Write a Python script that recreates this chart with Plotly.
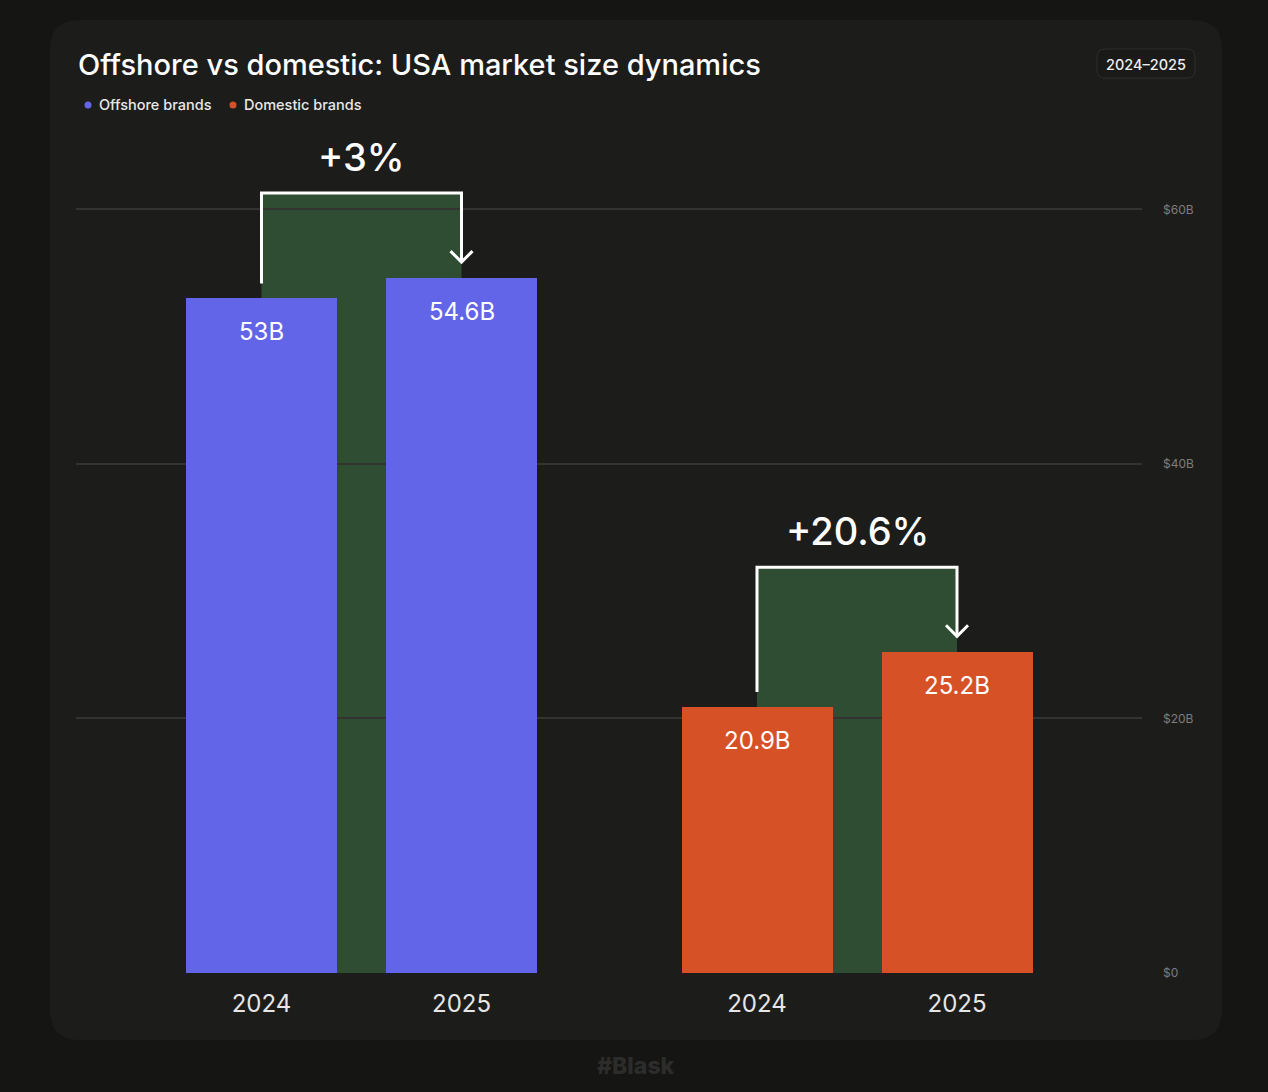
import plotly.graph_objects as go

# ---------------- data ----------------
years = ["2024", "2025"]
segments = ["Offshore brands", "Domestic brands"]
offshore_values = [53.0, 54.6]   # $B
domestic_values = [20.9, 25.2]   # $B
y_tick_values = [0, 20, 40, 60]
y_tick_labels = ["$0", "$20B", "$40B", "$60B"]
title_text = "Offshore vs domestic: USA market size dynamics"
period_text = "2024–2025"

# ---------------- style / layout ----------------
W, H = 1268, 1092
BG_OUT = "#151514"
BG_CARD = "#1c1c1b"
GREEN = "#2f4d32"
GRID = "#333332"
COLORS = ["#6265e8", "#d65226"]
FONT = "Inter"

PX_L, PX_R = 76, 1142          # plot area in pixels
PX_B, PX_T = 973, 133
Y_MAX = 66.0
px_per_unit_y = (PX_B - PX_T) / Y_MAX
X_UNIT_PX = 200.0
X_MIN = -(261.5 - PX_L) / X_UNIT_PX
X_MAX = X_MIN + (PX_R - PX_L) / X_UNIT_PX
GROUP_GAP = 2.4775
BAR_W = 0.755


def py(v_px):  # pixel y -> paper
    return 1 - v_px / H


def pxx(v_px):  # pixel x -> paper
    return v_px / W


def dy(px):  # pixels -> y data units
    return px / px_per_unit_y


def dx(px):
    return px / X_UNIT_PX


def rounded_path(x0, y0, x1, y1, r):
    rx, ry = r / W, r / H
    X0, X1 = pxx(x0), pxx(x1)
    Y0, Y1 = py(y0), py(y1)
    return (f"M {X0+rx},{Y0} L {X1-rx},{Y0} Q {X1},{Y0} {X1},{Y0-ry} "
            f"L {X1},{Y1+ry} Q {X1},{Y1} {X1-rx},{Y1} L {X0+rx},{Y1} "
            f"Q {X0},{Y1} {X0},{Y1+ry} L {X0},{Y0-ry} Q {X0},{Y0} {X0+rx},{Y0} Z")


groups = [offshore_values, domestic_values]
fig = go.Figure()
tickvals, ticktext = [], []
shapes, annotations = [], []

shapes.append(dict(type="path", xref="paper", yref="paper", layer="below",
                   path=rounded_path(50, 20, 1222, 1040, 30),
                   fillcolor=BG_CARD, line=dict(width=0)))
shapes.append(dict(type="path", xref="paper", yref="paper", layer="below",
                   path=rounded_path(1097, 49, 1195, 78, 8),
                   fillcolor="#1a1a19", line=dict(color="#2e2e2d", width=1)))

for gi, (seg, vals) in enumerate(zip(segments, groups)):
    xs = [gi * GROUP_GAP + i for i in range(len(vals))]
    fig.add_trace(go.Bar(x=xs, y=vals, width=BAR_W, name=seg,
                         marker=dict(color=COLORS[gi], line=dict(width=0)),
                         showlegend=False, hoverinfo="skip"))
    tickvals += xs
    ticktext += years
    top = max(vals) + dy(85)
    shapes.append(dict(type="rect", xref="x", yref="y", layer="below",
                       x0=xs[0], x1=xs[1], y0=0, y1=top,
                       fillcolor=GREEN, line=dict(width=0)))
    line = dict(color="white", width=3)
    shapes.append(dict(type="path", xref="x", yref="y", layer="above",
                       path=(f"M {xs[0]},{vals[0] + dy(15)} L {xs[0]},{top} "
                             f"L {xs[1]},{top} L {xs[1]},{vals[1] + dy(16)}"),
                       line=line))
    tip = vals[1] + dy(16)
    shapes.append(dict(type="path", xref="x", yref="y", layer="above",
                       path=(f"M {xs[1]-dx(11)},{tip + dy(11)} L {xs[1]},{tip} "
                             f"L {xs[1]+dx(11)},{tip + dy(11)}"),
                       line=line))
    pct = (vals[1] - vals[0]) / vals[0] * 100
    annotations.append(dict(x=(xs[0] + xs[1]) / 2, y=top, xref="x", yref="y",
                            text=f"+{round(pct, 1):g}%", showarrow=False,
                            yanchor="middle", yshift=36,
                            font=dict(family=FONT, size=38, color="white", weight=500)))
    for x, v in zip(xs, vals):
        annotations.append(dict(x=x, y=v, xref="x", yref="y", text=f"{v:g}B",
                                showarrow=False, yanchor="top", yshift=-17,
                                font=dict(family=FONT, size=24, color="white")))

annotations.append(dict(x=pxx(76), y=py(64), xref="paper", yref="paper",
                        text=title_text, showarrow=False, xanchor="left", yanchor="middle",
                        font=dict(family=FONT, size=29, color="white", weight=500)))
legend_x = [88, 233]
for seg, col, lx in zip(segments, COLORS, legend_x):
    r = 3.5
    shapes.append(dict(type="circle", xref="paper", yref="paper",
                       x0=pxx(lx - r), x1=pxx(lx + r), y0=py(105 + r), y1=py(105 - r),
                       fillcolor=col, line=dict(width=0)))
    annotations.append(dict(x=pxx(lx + 9), y=py(105), xref="paper", yref="paper",
                            text=seg, showarrow=False, xanchor="left", yanchor="middle",
                            font=dict(family=FONT, size=14.5, color="#e8e8e8", weight=500)))
annotations.append(dict(x=pxx(1146), y=py(64), xref="paper", yref="paper",
                        text=period_text, showarrow=False, xanchor="center", yanchor="middle",
                        font=dict(family=FONT, size=14.5, color="#eeeeee", weight=500)))
annotations.append(dict(x=pxx(636), y=py(1066), xref="paper", yref="paper",
                        text="#Blask", showarrow=False, xanchor="center", yanchor="middle",
                        font=dict(family=FONT, size=23, color="#2c2c2b", weight=800)))

fig.update_layout(
    width=W, height=H, autosize=False,
    margin=dict(l=0, r=0, t=0, b=0, pad=0, autoexpand=False),
    paper_bgcolor=BG_OUT, plot_bgcolor="rgba(0,0,0,0)",
    barmode="overlay", bargap=0,
    shapes=shapes, annotations=annotations,
    xaxis=dict(domain=[pxx(PX_L), pxx(PX_R)], range=[X_MIN, X_MAX], automargin=False,
               tickvals=tickvals, ticktext=ticktext, showgrid=False, zeroline=False,
               showline=False, ticks="", ticklabelstandoff=14,
               tickfont=dict(family=FONT, size=24, color="#e6e6e6")),
    yaxis=dict(domain=[py(PX_B), py(PX_T)], range=[0, Y_MAX], side="right", automargin=False,
               tickvals=y_tick_values, ticktext=y_tick_labels,
               showgrid=True, gridcolor=GRID, gridwidth=1.5, zeroline=False,
               showline=False, ticks="", ticklabelstandoff=20,
               tickfont=dict(family=FONT, size=12, color="#7d7d7d")),
    font=dict(family=FONT),
)

post = (
    "document.documentElement.style.margin='0';"
    "document.body.style.margin='0';document.body.style.padding='0';"
    "var g=document.querySelector('.plotly-graph-div');"
    "if(g){g.style.position='fixed';g.style.top='0';g.style.left='0';}"
)
fig.write_html("out.html", config={"displayModeBar": False}, post_script=post)
